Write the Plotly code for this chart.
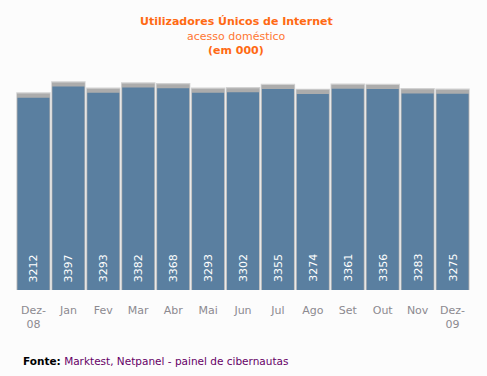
import plotly.graph_objects as go

categories = ["Dez-<br>08", "Jan", "Fev", "Mar", "Abr", "Mai", "Jun", "Jul", "Ago", "Set", "Out", "Nov", "Dez-<br>09"]
values = [3212, 3397, 3293, 3382, 3368, 3293, 3302, 3355, 3274, 3361, 3356, 3283, 3275]

FONT = "DejaVu Sans"
BAR = "#5a7fa0"

fig = go.Figure()
# soft shadow layers
fig.add_trace(go.Bar(x=categories, y=[v + 88 for v in values], width=0.985,
                     marker=dict(color="#d2d2d2", line=dict(width=0)), hoverinfo="skip"))
fig.add_trace(go.Bar(x=categories, y=[v + 68 for v in values], width=0.94,
                     marker=dict(color="#acacac", line=dict(width=0)), hoverinfo="skip"))
fig.add_trace(go.Bar(x=categories, y=values, width=0.916,
                     marker=dict(color=BAR, line=dict(width=0)), hoverinfo="x+y"))

W, H = 487, 376
l, r, t, b = 16, 17, 75, 86
pw, ph = W - l - r, H - t - b


def px_to_paper(px, py):
    return (px - l) / pw, (H - b - py) / ph


annots = [
    ("<b>Utilizadores Únicos de Internet</b>", 236, 22, "center", 11, "#ff6a13"),
    ("acesso doméstico", 236, 36, "center", 11, "#ff7733"),
    ("<b>(em 000)</b>", 236, 50, "center", 11, "#ff6a13"),
    ("<b>Fonte:</b> <span style='color:#660066'>Marktest, Netpanel - painel de cibernautas</span>",
     21, 361, "left", 10.5, "#000000"),
]
annotations = []
for text, px, py, anchor, size, color in annots:
    x, y = px_to_paper(px, py)
    annotations.append(dict(text=text, x=x, y=y, xref="paper", yref="paper", xanchor=anchor,
                            yanchor="middle", showarrow=False,
                            font=dict(family=FONT, size=size, color=color)))

# value labels, rotated, at the foot of each bar
for c, v in zip(categories, values):
    annotations.append(dict(text=str(v), x=c, y=0, xref="x", yref="y", textangle=-90,
                            yanchor="bottom", yshift=6, showarrow=False,
                            font=dict(family=FONT, size=11, color="white")))

fig.update_layout(
    width=W, height=H,
    barmode="overlay",
    showlegend=False,
    paper_bgcolor="#fcfcfc", plot_bgcolor="#fcfcfc",
    margin=dict(l=l, r=r, t=t, b=b),
    font=dict(family=FONT, size=11),
    xaxis=dict(showgrid=False, zeroline=False, showline=False, ticks="",
               ticklabelstandoff=12,
               tickfont=dict(family=FONT, size=11, color="#8c8a90"), fixedrange=True),
    yaxis=dict(range=[0, 3590], visible=False, fixedrange=True),
    annotations=annotations,
)

fig.write_html("out.html", config={"displayModeBar": False},
               post_script="document.body.style.margin='0';document.body.style.padding='0';")
